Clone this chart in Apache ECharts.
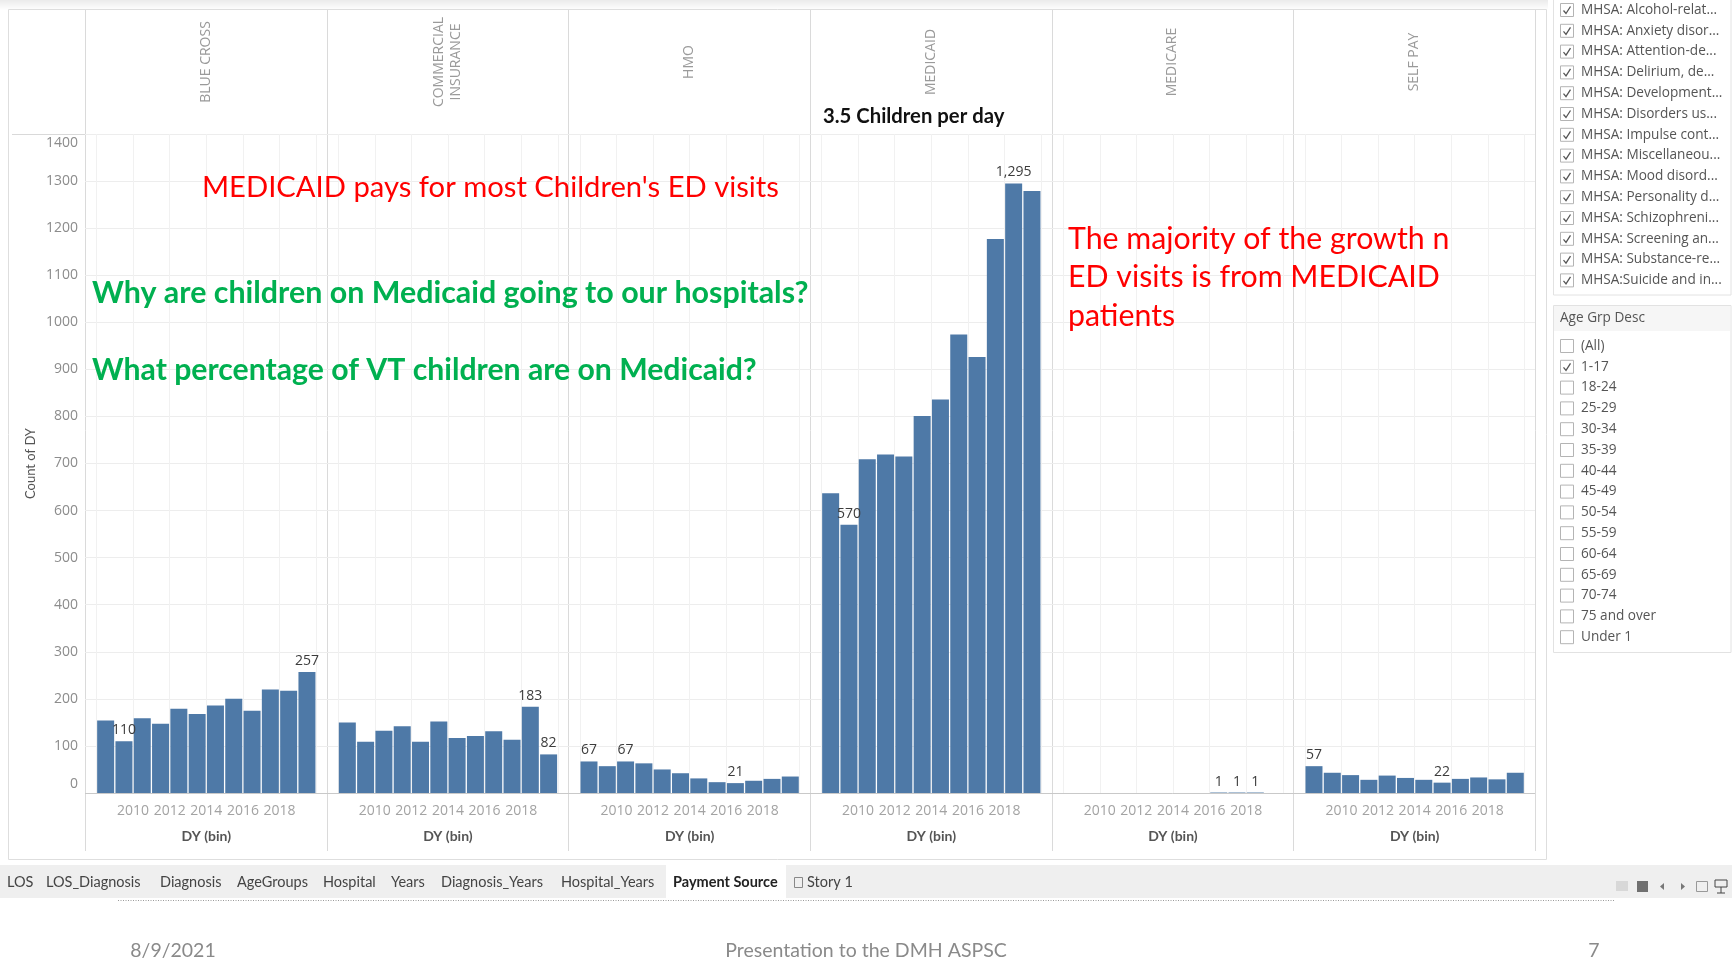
<!DOCTYPE html>
<html><head><meta charset="utf-8">
<script src="https://cdn.jsdelivr.net/npm/echarts@6/dist/echarts.min.js"></script>
<style>html,body{margin:0;padding:0;background:#fff}#c{width:1732px;height:972px}</style>
</head><body><div id="c"></div>
<script>
// ---------------- DATA ----------------
const years = [2008,2009,2010,2011,2012,2013,2014,2015,2016,2017,2018,2019];
const payers = ['BLUE CROSS','COMMERCIAL\nINSURANCE','HMO','MEDICAID','MEDICARE','SELF PAY'];
const blueCross  = [154,110,159,147,179,168,186,200,175,220,217,257];
const commercial = [150,109,132,142,109,152,117,121,131,113,183,82];
const hmo        = [67,57,67,63,50,42,31,23,21,26,30,35];
const medicaid   = [637,570,709,719,715,801,836,974,926,1177,1295,1279];
const medicare   = [null,null,null,null,null,null,null,null,1,1,1,null];
const selfPay    = [57,43,38,28,37,32,28,22,30,33,29,43];
const seriesValues = [blueCross, commercial, hmo, medicaid, medicare, selfPay];
const yMin = 0, yMax = 1400, yStep = 100;
const xMin = 2008, xMax = 2020, xStep = 2;
const yAxisTitle = 'Count of DY';
const xAxisTitle = 'DY (bin)';
const headline = '3.5 Children per day';
const noteRed1 = "MEDICAID pays for most Children's ED visits";
const noteGreen = ['Why are children on Medicaid going to our hospitals?', 'What percentage of VT children are on Medicaid?'];
const noteRed2 = ['The majority of the growth n', 'ED visits is from MEDICAID', 'patients'];
const diagnosisFilters = ['MHSA: Alcohol-relat...','MHSA: Anxiety disor...','MHSA: Attention-de...','MHSA: Delirium, de...','MHSA: Development...','MHSA: Disorders us...','MHSA: Impulse cont...','MHSA: Miscellaneou...','MHSA: Mood disord...','MHSA: Personality d...','MHSA: Schizophreni...','MHSA: Screening an...','MHSA: Substance-re...','MHSA:Suicide and in...'];
const ageFilterTitle = 'Age Grp Desc';
const ageGroups = ['(All)','1-17','18-24','25-29','30-34','35-39','40-44','45-49','50-54','55-59','60-64','65-69','70-74','75 and over','Under 1'];
const ageChecked = ['1-17'];
const tabs = ['LOS','LOS_Diagnosis','Diagnosis','AgeGroups','Hospital','Years','Diagnosis_Years','Hospital_Years','Payment Source','Story 1'];
const activeTab = 'Payment Source';
const footer = ['8/9/2021', 'Presentation to the DMH ASPSC', '7'];

// ---------------- LAYOUT ----------------
const PANE_L = 85, PANE_R = 1535, PANE_T = 134, PANE_B = 793;
const PANEL_W = (PANE_R - PANE_L) / 6;
const BAR_PAD = 11.5, BAR_AREA = 219.6;
const BLUE = '#4e79a7';
const tabX = [7,46,160,237,323,391,441,561,673,807];

const chart = echarts.init(document.getElementById('c'));

const grids = [{left: PANE_L, top: PANE_T, width: PANE_R - PANE_L, height: PANE_B - PANE_T}];
const xAxes = [{gridIndex: 0, type: 'value', min: 0, max: 1, show: false}];
const yAxes = [{
  gridIndex: 0, type: 'value', min: yMin, max: yMax, interval: yStep,
  axisLine: {show: false}, axisTick: {show: false},
  splitLine: {show: true, lineStyle: {color: '#ededed', width: 1}},
  axisLabel: {
    color: '#8c8c8c', fontSize: 14, fontFamily: 'Open Sans', margin: 7,
    formatter: v => v === yMin ? '{lo|' + v + '}' : (v === yMax ? '{hi|' + v + '}' : String(v)),
    rich: {
      lo: {padding: [0,0,18,0], color: '#8c8c8c', fontSize: 14, fontFamily: 'Open Sans'},
      hi: {padding: [18,0,0,0], color: '#8c8c8c', fontSize: 14, fontFamily: 'Open Sans'}
    }
  }
}];
const series = [];

seriesValues.forEach((vals, i) => {
  const gi = i + 1;
  grids.push({left: PANE_L + i * PANEL_W + BAR_PAD, top: PANE_T, width: BAR_AREA, height: PANE_B - PANE_T});
  xAxes.push({
    gridIndex: gi, type: 'value', min: xMin, max: xMax, interval: xStep,
    axisLine: {show: false}, axisTick: {show: false},
    splitLine: {show: true, lineStyle: {color: '#f1f1f1', width: 1}},
    axisLabel: {showMinLabel: false, showMaxLabel: false, color: '#a3a3a3', fontSize: 14, fontFamily: 'Open Sans', margin: 11,
                formatter: v => String(v)},
    name: xAxisTitle, nameLocation: 'middle', nameGap: 36,
    nameTextStyle: {color: '#555', fontSize: 14, fontWeight: 'bold', fontFamily: 'Lato'}
  });
  yAxes.push({gridIndex: gi, type: 'value', min: yMin, max: yMax, interval: yStep, show: false, splitLine: {show: false}});
  const present = vals.filter(v => v !== null);
  const mn = Math.min(...present), mx = Math.max(...present);
  series.push({
    type: 'bar', xAxisIndex: gi, yAxisIndex: gi, barWidth: 17, barGap: '0%',
    itemStyle: {color: BLUE},
    silent: true,
    data: vals.map((v, k) => ({
      value: [years[k] + 0.5, v],
      label: {show: v !== null && (v === mn || v === mx)}
    })),
    label: {
      position: 'top', distance: 4, color: '#3c3c3c', fontSize: 14, fontFamily: 'Open Sans',
      formatter: p => p.value[1].toLocaleString('en-US')
    }
  });
});

// ---------------- GRAPHICS ----------------
const g = [];
const txt = (x, y, text, font, fill, align, vAlign, extra) => g.push(Object.assign({
  type: 'text', x: x, y: y, silent: true, z: 6,
  style: {text: text, x: 0, y: 0, font: font, fill: fill, align: align || 'left', textAlign: align || 'left',
          verticalAlign: vAlign || 'middle', textVerticalAlign: vAlign || 'middle'}
}, extra || {}));
const line = (x1, y1, x2, y2, color, w, dash, z) => g.push({
  type: 'line', silent: true, z: z || 0, shape: {x1: x1, y1: y1, x2: x2, y2: y2},
  style: {stroke: color, lineWidth: w || 1, lineDash: dash || null}
});
const rect = (x, y, w, h, fill, stroke, z) => g.push({
  type: 'rect', silent: true, z: z || 0, shape: {x: x, y: y, width: w, height: h},
  style: {fill: fill || 'none', stroke: stroke || 'none', lineWidth: 1}
});

// top shadow
g.push({type: 'rect', silent: true, z: -1, shape: {x: 0, y: 0, width: 1548, height: 10},
  style: {fill: {type: 'linear', x: 0, y: 0, x2: 0, y2: 1, colorStops: [{offset: 0, color: '#ebebeb'}, {offset: 1, color: '#ffffff'}]}}});
// sheet frame
rect(8.5, 9.5, 1538, 850, 'none', '#dedede');
// header separator and pane lines
line(12, PANE_T + 0.5, PANE_R, PANE_T + 0.5, '#d9d9d9');
for (let i = 0; i <= 6; i++) {
  const x = Math.round(PANE_L + i * PANEL_W) + 0.5;
  line(x, 10, x, 851, '#dadada');
}
line(PANE_L, PANE_B + 0.5, PANE_R, PANE_B + 0.5, '#c9c9c9', 1, null, 5);

// column headers (rotated)
payers.forEach((p, i) => {
  txt(PANE_L + (i + 0.5) * PANEL_W, 62, p, '14px "Open Sans"', '#9a9a9a', 'center', 'middle',
      {rotation: Math.PI / 2, style: {text: p, x: 0, y: 0, font: '14px "Open Sans"', fill: '#9a9a9a', align: 'center', textAlign: 'center', verticalAlign: 'middle', textVerticalAlign: 'middle', lineHeight: 17}});
});
// y axis title
txt(31, (PANE_T + PANE_B) / 2, yAxisTitle, '13px Lato', '#555', 'center', 'middle', {rotation: Math.PI / 2});

// annotations
txt(823, 116, headline, 'bold 20.3px Lato', '#111', 'left');
txt(202, 188, noteRed1, '29.2px Lato', '#ff0000', 'left');
txt(92, 293, noteGreen[0], 'bold 30.4px Lato', '#00b050', 'left');
txt(92, 370, noteGreen[1], 'bold 30.2px Lato', '#00b050', 'left');
noteRed2.forEach((t, k) => txt(1068, 239 + k * 38.7, t, '30.3px Lato', '#ff0000', 'left'));

// filter panel 1
const FF = '13.6px "Open Sans"';
rect(1553.5, -5, 1731 - 1553.5, 300, '#ffffff', '#e2e2e2');
const checkbox = (x, y, checked) => {
  rect(x + 0.5, y - 6.5, 13, 13, '#ffffff', '#b4b4b4', 2);
  if (checked) g.push({type: 'polyline', silent: true, z: 3,
    shape: {points: [[x + 3.5, y + 0.5], [x + 6, y + 3.5], [x + 10.5, y - 3.5]]},
    style: {stroke: '#555', lineWidth: 1.3, fill: 'none'}});
};
diagnosisFilters.forEach((t, k) => {
  const y = 10 + k * 20.8;
  checkbox(1560, y, true);
  txt(1581, y, t, FF, '#555', 'left');
});
// filter panel 2
rect(1553.5, 305.5, 1731 - 1553.5, 347, '#ffffff', '#e2e2e2');
rect(1554, 306, 176, 25, '#f6f6f6', 'none', 1);
txt(1560, 318, ageFilterTitle, FF, '#555', 'left');
ageGroups.forEach((t, k) => {
  const y = 346 + k * 20.8;
  checkbox(1560, y, ageChecked.indexOf(t) >= 0);
  txt(1581, y, t, FF, '#555', 'left');
});

// tab bar
rect(0, 865, 1732, 33, '#efefef', 'none', -1);
const atIdx = tabs.indexOf(activeTab);
rect(666, 865, 120, 33, '#ffffff', 'none', 0);
tabs.forEach((t, k) => {
  const isA = k === atIdx;
  if (t.indexOf('Story') === 0) {
    rect(tabX[k] - 12.5, 877.5, 8, 10, 'none', '#888', 2);
  }
  txt(tabX[k], 882.5, t, (isA ? 'bold ' : '') + '14.5px Lato', isA ? '#222' : '#444', 'left');
});
line(118, 900.5, 1615, 900.5, '#9a9a9a', 1, [1, 1.5]);
// right toolbar icons
rect(1616, 881, 12, 10, '#d8d8d8', 'none', 1);
rect(1637, 881, 11, 11, '#707070', 'none', 1);
g.push({type: 'polygon', silent: true, shape: {points: [[1664, 883], [1664, 890], [1660, 886.5]]}, style: {fill: '#777'}});
g.push({type: 'polygon', silent: true, shape: {points: [[1681, 883], [1681, 890], [1685, 886.5]]}, style: {fill: '#777'}});
rect(1696.5, 881.5, 11, 10, 'none', '#999', 1);
rect(1715, 880, 12, 7, 'none', '#444', 1);
line(1721, 887, 1721, 893, '#444');
line(1717, 893, 1725, 893, '#444');

// footer
txt(173, 951, footer[0], '19.5px Lato', '#8a8a8a', 'center');
txt(866, 951, footer[1], '19.5px Lato', '#8a8a8a', 'center');
txt(1594, 951, footer[2], '19.5px Lato', '#8a8a8a', 'center');

chart.setOption({
  animation: false,
  backgroundColor: '#ffffff',
  grid: grids,
  xAxis: xAxes,
  yAxis: yAxes,
  series: series,
  graphic: {elements: g}
});
</script>
</body></html>
